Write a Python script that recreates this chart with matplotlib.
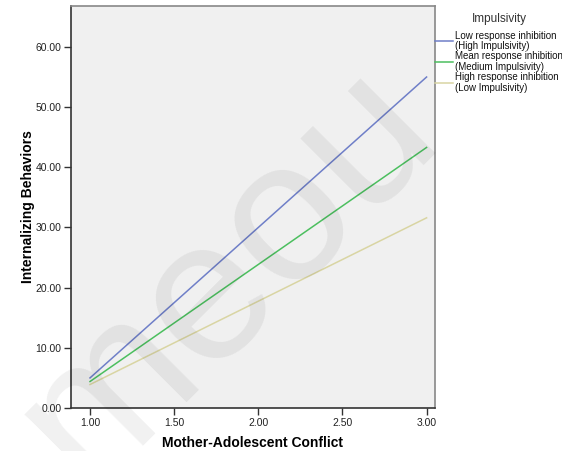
import matplotlib.pyplot as plt
import numpy as np

plt.rcParams['font.family'] = ['Liberation Sans', 'DejaVu Sans']

# simple slopes of internalizing behaviors on conflict at three levels of inhibition
conflict = [1.0, 3.0]
low_inhibition = [5.0, 55.0]
mean_inhibition = [4.4, 43.3]
high_inhibition = [3.9, 31.6]
labels = ['Low response inhibition\n(High Impulsivity)',
          'Mean response inhibition\n(Medium Impulsivity)',
          'High response inhibition\n(Low Impulsivity)']
colors = ['#6f7fc8', '#4cbf5f', '#d9d5a3']
xticks = [1.0, 1.5, 2.0, 2.5, 3.0]
yticks = [0, 10, 20, 30, 40, 50, 60]

W, H = 562, 451
fig = plt.figure(figsize=(W / 100, H / 100), dpi=100)
ax = fig.add_axes([71 / W, 1 - 408 / H, (435 - 71) / W, (408 - 6) / H])
ax.set_facecolor('#f0f0f0')

for ys, lab, c in zip([low_inhibition, mean_inhibition, high_inhibition], labels, colors):
    ax.plot(conflict, ys, color=c, linewidth=1.1, label=lab, zorder=3)

ax.set_xlim(0.887, 3.05)
ax.set_ylim(0, 66.8)
ax.set_xticks(xticks)
ax.set_yticks(yticks)
ax.set_xticklabels([f'{v:.2f}' for v in xticks])
ax.set_yticklabels([f'{v:.2f}' for v in yticks])
ax.tick_params(labelsize=7.5, length=5, width=1, color='#333333', labelcolor='#222222', pad=2)

for side in ['top', 'right']:
    ax.spines[side].set_color('#888888')
    ax.spines[side].set_linewidth(1.2)
for side in ['left', 'bottom']:
    ax.spines[side].set_color('#333333')
    ax.spines[side].set_linewidth(1.2)

ax.set_xlabel('Mother-Adolescent Conflict', fontsize=10, fontweight='bold', labelpad=6)
ax.set_ylabel('Internalizing Behaviors', fontsize=10, fontweight='bold', labelpad=0)

leg = ax.legend(loc='upper left', bbox_to_anchor=(435 / W, 1 - 13 / H),
                bbox_transform=fig.transFigure, frameon=False,
                title='Impulsivity', fontsize=7, title_fontsize=8.5,
                handlelength=1.85, handletextpad=0.2, labelspacing=0.05,
                borderaxespad=0, borderpad=0)
leg._legend_box.align = 'center'
leg._legend_box.sep = 4
leg.get_title().set_color('#333333')
for t in leg.get_texts():
    t.set_linespacing(1.05)
    t.set_color('#111111')

# faint diagonal watermark
fig.text(0.405, 0.39, 'meou', fontsize=145, color='black', alpha=0.06,
         rotation=45, ha='center', va='center', zorder=5)

fig.savefig('out.png', dpi=100)
